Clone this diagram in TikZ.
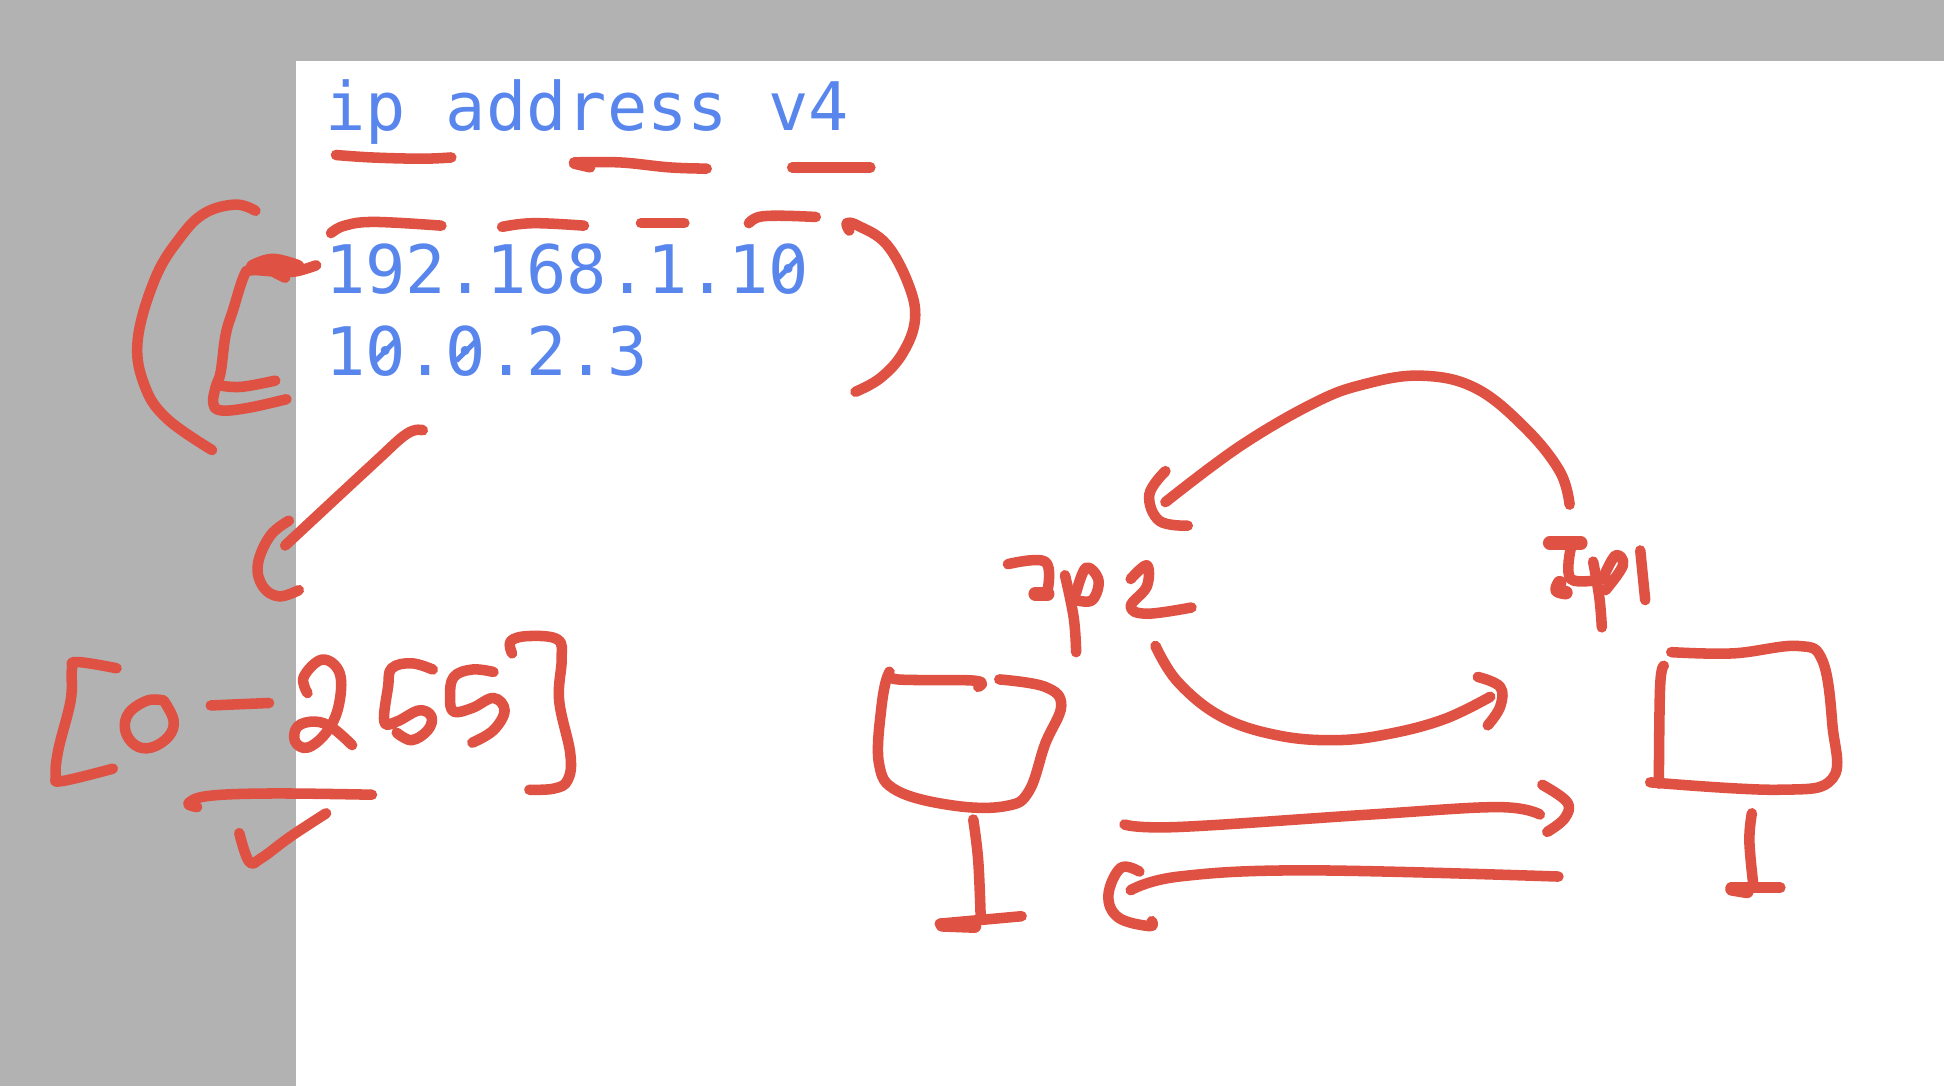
\documentclass[tikz,border=0pt]{standalone}
\usepackage{fontspec}
\newfontfamily\codefont{DejaVu Sans Mono}
\definecolor{inkred}{HTML}{DF5143}
\definecolor{inkblue}{HTML}{5886ED}
\definecolor{sidegrey}{HTML}{B2B2B2}
\tikzset{
  pen/.style={draw=inkred,line width=8.5pt,line cap=round,line join=round},
  fatpen/.style={pen,line width=11pt},
  codetext/.style={text=inkblue,font=\codefont\fontsize{54}{54}\selectfont,inner sep=0pt,anchor=base west},
  zeroslash/.style={draw=inkblue,line width=4pt}
}
\newcommand\hand[1]{\draw[pen] plot[smooth,tension=0.65] coordinates {#1};}
\newcommand\fathand[1]{\draw[fatpen] plot[smooth,tension=0.65] coordinates {#1};}
\begin{document}
\begin{tikzpicture}[x=1pt,y=-1pt]
\useasboundingbox (0,0) rectangle (1568,876);
\fill[white] (0,0) rectangle (1568,876);
\fill[sidegrey] (0,0) rectangle (1568,49);
\fill[sidegrey] (0,0) rectangle (239,876);
\node[codetext] (title) at (262,105) {ip address v4};
\node[codetext] (addrone) at (262,237) {192.168.1.10};
\node[codetext] (addrtwo) at (262,303) {10.0.2.3};
\draw[zeroslash] (628,224) -- (644,208);
\draw[zeroslash] (303,291) -- (319,275);
\draw[zeroslash] (368,291) -- (384,275);
% underlines
\hand{(271,125)(300,127)(340,128)(364,127)}
\hand{(463,131)(500,131)(540,135)(570,136)}
\hand{(463,132)(476,135)}
\hand{(639,135)(702,135)}
% overlines
\hand{(267,188)(278,182)(302,179)(356,182)}
\hand{(405,183)(430,180)(471,182)}
\hand{(517,180)(552,180)}
\hand{(604,180)(612,175)(630,174)(658,175)}
% brackets round addresses
\hand{(685,186)(683,180)(692,182)(715,197)(733,230)(738,258)(728,285)(710,305)(690,316)}
\hand{(206,170)(190,165)(165,172)(145,192)(125,225)(111,275)(117,312)(135,338)(171,363)}
\hand{(255,214)(238,219)(222,219)(203,218)(197,222)(188,250)(182,270)(178,300)(174,312)(172,325)(178,331)(200,329)(231,322)}
\hand{(178,311)(195,312)(222,307)}
\fathand{(204,215)(220,210)(240,215)}
\hand{(222,220)(230,224)}
% check down to range
\hand{(341,347)(328,350)(300,375)(230,440)}
\hand{(233,420)(218,432)(208,455)(212,473)(225,481)(241,476)}
% [0-255]
\hand{(94,539)(62,534)(58,540)(57,565)(47,605)(45,626)(50,630)(91,620)}
\hand{(132,565)(119,565)(104,575)(101,589)(109,601)(122,603)(136,594)(140,581)(132,565)}
\hand{(170,569)(217,567)}
\hand{(248,559)(245,546)(260,532)(274,543)(273,570)(263,591)(248,603)(238,598)(240,586)(254,582)(268,587)(284,601)}
\hand{(349,540)(332,535)(316,539)(313,554)(310,582)(320,582)(338,573)(348,578)(345,589)(332,597)(320,591)}
\hand{(398,542)(381,540)(366,546)(363,562)(366,574)(381,571)(398,563)(407,573)(398,589)(381,599)}
\hand{(413,527)(412,517)(427,513)(450,516)(453,532)(451,565)(460,608)(458,629)(447,636)(427,637)}
\hand{(159,651)(152,648)(168,642)(219,640)(300,641)}
\hand{(193,672)(201,695)(211,692)(234,675)(263,656)}
% big arc
\hand{(1266,407)(1258,380)(1230,345)(1190,313)(1146,303)(1100,310)(1060,325)(1000,360)(940,405)}
\hand{(940,380)(927,399)(935,420)(958,424)}
% ip2
\hand{(813,455)(843,453)(845,476)}
\fathand{(835,479)(845,479)}
\hand{(859,464)(866,498)(868,526)}
\hand{(868,478)(876,458)(886,468)(881,484)(868,484)}
\hand{(912,467)(925,456)(925,473)(912,489)(925,495)(961,490)}
% lower arc
\hand{(932,521)(950,550)(985,578)(1030,593)(1077,597)(1120,592)(1165,580)(1202,562)}
\hand{(1192,546)(1210,554)(1210,570)(1200,585)}
% left computer
\hand{(789,554)(786,549)(724,548)(717,543)(711,570)(709,616)(724,638)(771,650)(812,650)(830,638)(843,600)(856,569)(843,554)(806,548)}
\hand{(785,661)(789,694)(791,740)}
\hand{(758,745)(824,739)}
\fathand{(760,746)(786,747)}
% double arrows
\hand{(907,665)(951,667)(1105,657)(1208,651)(1242,657)}
\hand{(1244,633)(1264,647)(1262,660)(1248,671)}
\hand{(1257,707)(1054,702)(951,707)(912,718)}
\hand{(919,703)(904,700)(894,722)(902,740)(927,747)(929,743)}
% right computer
\hand{(1348,526)(1398,527)(1450,521)(1470,533)(1478,585)(1478,628)(1434,637)(1331,631)}
\hand{(1342,537)(1339,554)(1338,632)}
\hand{(1413,656)(1411,678)(1414,712)}
\hand{(1396,716)(1436,716)}
\fathand{(1397,717)(1409,719)}
% ip1
\fathand{(1250,438)(1275,438)}
\hand{(1267,442)(1267,467)(1293,467)}
\fathand{(1258,470)(1256,476)(1263,478)}
\hand{(1285,453)(1290,482)(1292,506)}
\hand{(1293,466)(1303,448)(1309,456)(1295,476)}
\hand{(1323,444)(1327,484)}
\end{tikzpicture}
\end{document}
